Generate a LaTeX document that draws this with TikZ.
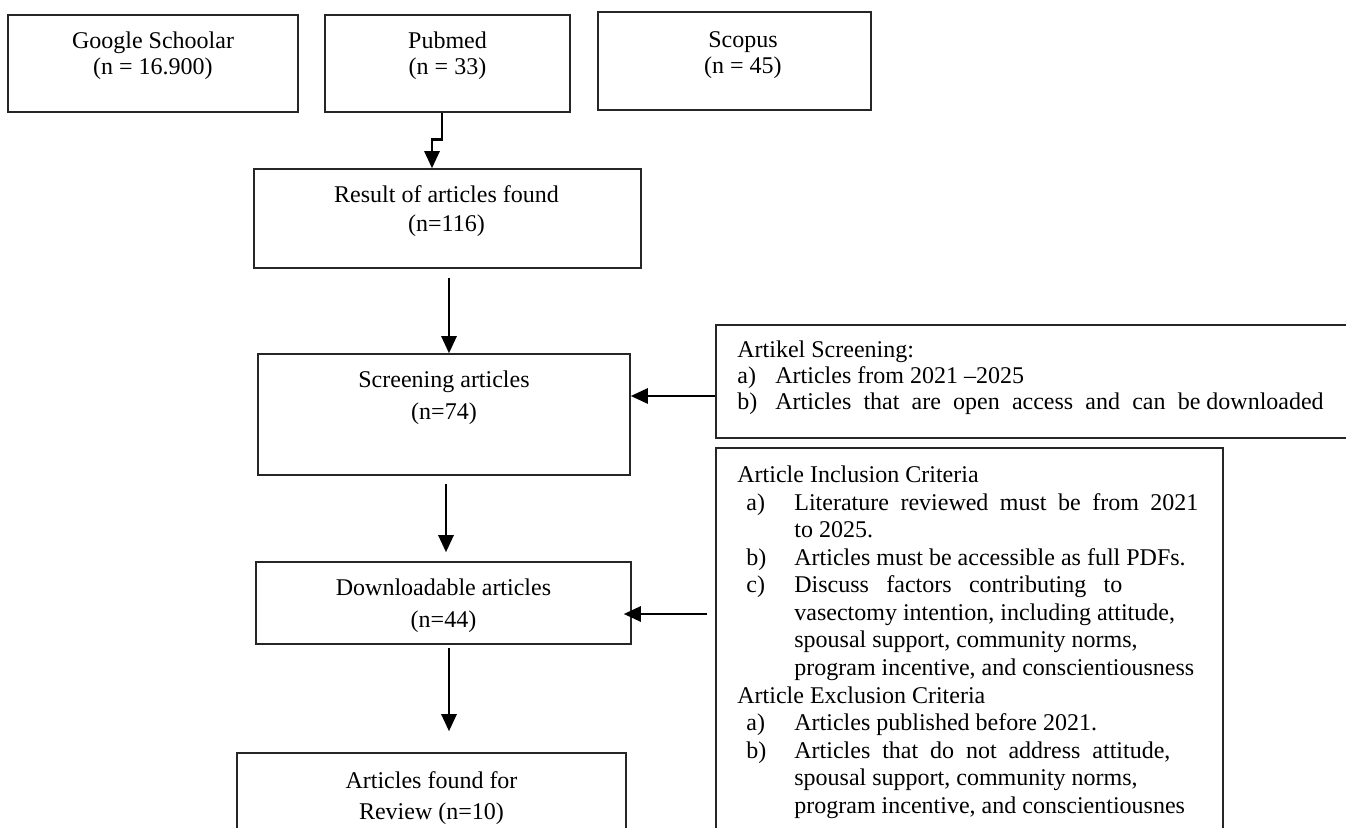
\documentclass[tikz,border=0pt]{standalone}
\usepackage{fontspec}
\setmainfont{Liberation Serif}
\usetikzlibrary{arrows.meta, positioning, calc}

\newcommand{\lineone}{\rule{0pt}{9pt}}
\newcommand{\critem}[1]{\makebox[28.5pt][l]{\hspace*{4.5pt}#1}}
\newcommand{\crcont}{\hspace*{28.5pt}}

\begin{document}
\begin{tikzpicture}[
  x=0.5pt, y=-0.5pt,
  box/.style={draw=black!85, line width=0.75pt, rectangle, inner sep=0pt},
  boxtext/.style={anchor=north, inner sep=0pt, align=center},
  crit/.style={anchor=north west, inner sep=0pt, align=left},
  flow/.style={-{Triangle[length=8.5pt, width=7.5pt]}, line width=1.3pt}
]
\useasboundingbox (0,0) rectangle (1346,828);

% Sources
\node[box, minimum width=145pt, minimum height=48.5pt] (gs) at (153,63.5) {};
\node[box, minimum width=122.5pt, minimum height=48.5pt] (pm) at (447.5,63.5) {};
\node[box, minimum width=136.5pt, minimum height=49pt] (sc) at (734.5,61) {};
\node[boxtext, font=\fontsize{12}{13}\selectfont] (gs-txt) at (153,30) {\lineone Google Schoolar\\(n = 16.900)};
\node[boxtext, font=\fontsize{12}{13}\selectfont] (pm-txt) at (447.5,30) {\lineone Pubmed\\(n = 33)};
\node[boxtext, font=\fontsize{12}{13}\selectfont] (sc-txt) at (743,29) {\lineone Scopus\\(n = 45)};

% Main flow
\node[box, minimum width=193.5pt, minimum height=49.5pt] (res) at (447.5,218.5) {};
\node[boxtext, font=\fontsize{12}{14.5}\selectfont] (res-txt) at (446.5,184) {\lineone Result of articles found\\(n=116)};

\node[box, minimum width=186pt, minimum height=60.5pt] (scr) at (444,414.5) {};
\node[boxtext, font=\fontsize{12}{16}\selectfont] (scr-txt) at (444,369) {\lineone Screening articles\\(n=74)};

\node[box, minimum width=187.5pt, minimum height=41pt] (dl) at (443.5,603) {};
\node[boxtext, font=\fontsize{12}{16}\selectfont] (dl-txt) at (443.5,577) {\lineone Downloadable articles\\(n=44)};

\node[box, minimum width=194.5pt, minimum height=60pt] (rev) at (431.5,813) {};
\node[boxtext, font=\fontsize{12}{15.5}\selectfont] (rev-txt) at (431.5,770) {\lineone Articles found for\\Review (n=10)};

% Criteria
\node[box, minimum width=330pt, minimum height=56.5pt] (art) at (1046,381.5) {};
\node[crit, font=\fontsize{12}{13}\selectfont] (art-txt) at (737,339) {\lineone Artikel Screening:\\
  \makebox[19pt][l]{a)}Articles from 2021 --2025\\
  \makebox[19pt][l]{b)}\makebox[212.5pt][s]{Articles that are open access and can be} downloaded};

\node[box, minimum width=253.5pt, minimum height=216pt] (inc) at (969.5,664) {};
\node[crit, font=\fontsize{12}{13.8}\selectfont] (inc-txt) at (737,464) {\lineone Article Inclusion Criteria\\
  \critem{a)}\makebox[202pt][s]{Literature reviewed must be from 2021}\\
  \crcont to 2025.\\
  \critem{b)}Articles must be accessible as full PDFs.\\
  \critem{c)}\makebox[164pt][s]{Discuss factors contributing to}\\
  \crcont vasectomy intention, including attitude,\\
  \crcont spousal support, community norms,\\
  \crcont program incentive, and conscientiousness\\
  Article Exclusion Criteria\\
  \critem{a)}Articles published before 2021.\\
  \critem{b)}\makebox[188pt][s]{Articles that do not address attitude,}\\
  \crcont spousal support, community norms,\\
  \crcont program incentive, and conscientiousnes};

% Arrows
\draw[flow] ($(pm.south)+(-5.5,0)$) -- ++(0,27) -| ($(res.north)+(-15.5,0)$);
\coordinate (a1) at ($(res.south)+(1.5,0)$);
\draw[flow, shorten <=4.5pt] (a1) -- (a1 |- scr.north);
\coordinate (a2) at ($(scr.south)+(2,0)$);
\draw[flow, shorten <=4pt, shorten >=4.5pt] (a2) -- (a2 |- dl.north);
\coordinate (a3) at ($(dl.south)+(5.5,0)$);
\draw[flow, shorten <=1.5pt, shorten >=10.5pt] (a3) -- (a3 |- rev.north);

\coordinate (artin) at ($(art.west)+(0,14.5)$);
\draw[flow] (artin) -- (artin -| scr.east);
\coordinate (incout) at ($(inc.west |- dl.east)+(0,11)$);
\draw[flow, shorten <=4pt, shorten >=-4pt] (incout) -- (incout -| dl.east);

\end{tikzpicture}
\end{document}
